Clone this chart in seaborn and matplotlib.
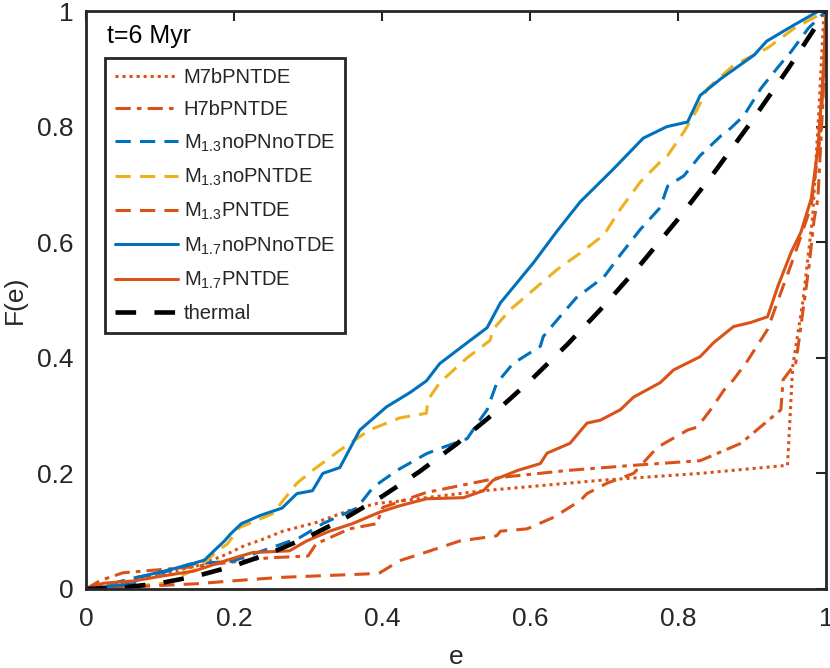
import numpy as np
import pandas as pd
import matplotlib
matplotlib.use('Agg')
import matplotlib.pyplot as plt
import seaborn as sns

# eccentricity CDFs (t = 6 Myr)
e_m7b = [0.0, 0.05, 0.1, 0.15, 0.19, 0.214, 0.237, 0.266, 0.311, 0.356, 0.393, 0.424, 0.46, 0.537,
         0.695, 0.83, 0.948, 0.955, 0.969, 0.982, 0.99, 0.997, 1.0]
F_m7b = [0.0, 0.01, 0.025, 0.04, 0.06, 0.075, 0.085, 0.1, 0.115, 0.136, 0.148, 0.152, 0.158, 0.17,
         0.188, 0.2, 0.214, 0.385, 0.5, 0.645, 0.82, 0.993, 1.0]

e_h7b = [0.0, 0.02, 0.05, 0.133, 0.214, 0.248, 0.30, 0.311, 0.356, 0.393, 0.401, 0.46, 0.56, 0.65,
         0.74, 0.83, 0.885, 0.939, 0.942, 0.959, 0.963, 0.977, 0.984, 0.989, 0.996, 1.0]
F_h7b = [0.0, 0.015, 0.028, 0.037, 0.049, 0.054, 0.057, 0.078, 0.104, 0.113, 0.141, 0.167, 0.193, 0.205,
         0.214, 0.222, 0.252, 0.31, 0.362, 0.391, 0.426, 0.558, 0.64, 0.675, 0.849, 1.0]

e_m13_nopn_notde = [0.0, 0.03, 0.068, 0.103, 0.14, 0.198, 0.252, 0.289, 0.32, 0.366, 0.388, 0.42, 0.46,
                    0.478, 0.515, 0.532, 0.542, 0.555, 0.577, 0.614, 0.618, 0.637, 0.664, 0.672, 0.70,
                    0.722, 0.749, 0.776, 0.786, 0.808, 0.83, 0.858, 0.871, 0.889, 0.912, 0.925, 0.943,
                    0.953, 0.976, 1.0]
F_m13_nopn_notde = [0.0, 0.008, 0.02, 0.028, 0.043, 0.048, 0.072, 0.089, 0.113, 0.14, 0.176, 0.205, 0.234,
                    0.243, 0.26, 0.292, 0.31, 0.356, 0.39, 0.42, 0.437, 0.466, 0.506, 0.513, 0.54,
                    0.578, 0.622, 0.66, 0.697, 0.715, 0.75, 0.784, 0.797, 0.819, 0.866, 0.887, 0.915,
                    0.93, 0.97, 1.0]

e_m13_nopn_tde = [0.0, 0.05, 0.106, 0.15, 0.178, 0.191, 0.207, 0.252, 0.285, 0.306, 0.343, 0.383, 0.424,
                  0.46, 0.462, 0.478, 0.515, 0.546, 0.55, 0.573, 0.605, 0.637, 0.672, 0.70, 0.722,
                  0.749, 0.776, 0.786, 0.808, 0.826, 0.84, 0.875, 0.921, 0.957, 1.0]
F_m13_nopn_tde = [0.0, 0.003, 0.01, 0.035, 0.066, 0.078, 0.106, 0.13, 0.183, 0.205, 0.24, 0.275, 0.296,
                  0.304, 0.327, 0.357, 0.40, 0.43, 0.449, 0.483, 0.518, 0.553, 0.585, 0.613, 0.657,
                  0.704, 0.739, 0.75, 0.791, 0.83, 0.866, 0.906, 0.936, 0.97, 1.0]

e_m13_pn_tde = [0.0, 0.05, 0.149, 0.198, 0.262, 0.379, 0.397, 0.424, 0.465, 0.505, 0.555, 0.56, 0.596,
                0.632, 0.668, 0.677, 0.704, 0.74, 0.772, 0.813, 0.826, 0.844, 0.862, 0.875, 0.894,
                0.921, 0.939, 0.957, 0.98, 0.993, 1.0]
F_m13_pn_tde = [0.0, 0.003, 0.009, 0.014, 0.02, 0.026, 0.028, 0.049, 0.066, 0.083, 0.092, 0.1, 0.104,
                0.124, 0.153, 0.165, 0.183, 0.2, 0.245, 0.275, 0.28, 0.31, 0.344, 0.362, 0.395,
                0.449, 0.513, 0.576, 0.663, 0.791, 1.0]

e_m17_nopn_notde = [0.0, 0.028, 0.065, 0.069, 0.079, 0.106, 0.142, 0.16, 0.173, 0.187, 0.196, 0.21, 0.235,
                    0.265, 0.285, 0.306, 0.32, 0.343, 0.37, 0.406, 0.438, 0.46, 0.478, 0.515, 0.542,
                    0.56, 0.605, 0.637, 0.668, 0.713, 0.753, 0.785, 0.813, 0.83, 0.858, 0.903, 0.92,
                    0.957, 0.99, 1.0]
F_m17_nopn_notde = [0.0, 0.004, 0.009, 0.02, 0.023, 0.031, 0.043, 0.05, 0.066, 0.083, 0.096, 0.113, 0.127,
                    0.14, 0.165, 0.17, 0.2, 0.21, 0.275, 0.315, 0.34, 0.36, 0.39, 0.426, 0.452,
                    0.495, 0.565, 0.62, 0.67, 0.727, 0.78, 0.80, 0.808, 0.854, 0.883, 0.924, 0.948,
                    0.976, 1.0, 1.0]

e_m17_pn_tde = [0.0, 0.011, 0.024, 0.065, 0.106, 0.146, 0.191, 0.225, 0.275, 0.298, 0.329, 0.36, 0.397,
                0.424, 0.46, 0.51, 0.537, 0.55, 0.583, 0.614, 0.623, 0.654, 0.677, 0.695, 0.722, 0.74,
                0.776, 0.794, 0.83, 0.848, 0.875, 0.898, 0.921, 0.935, 0.953, 0.966, 0.98, 0.989,
                0.997, 1.0]
F_m17_pn_tde = [0.0, 0.005, 0.01, 0.014, 0.023, 0.031, 0.05, 0.063, 0.066, 0.083, 0.1, 0.113, 0.133,
                0.144, 0.156, 0.158, 0.17, 0.188, 0.205, 0.217, 0.235, 0.252, 0.287, 0.292, 0.31, 0.332,
                0.357, 0.379, 0.402, 0.426, 0.454, 0.461, 0.471, 0.524, 0.583, 0.617, 0.675, 0.762,
                0.906, 1.0]

e_thermal = [0.0, 0.05, 0.1, 0.15, 0.2, 0.25, 0.3, 0.35, 0.4, 0.45, 0.5, 0.55, 0.6, 0.65, 0.7,
             0.75, 0.8, 0.85, 0.9, 0.95, 1.0]
F_thermal = [0.0, 0.0025, 0.01, 0.0225, 0.04, 0.0625, 0.09, 0.1225, 0.16, 0.2025, 0.25, 0.3025, 0.36,
             0.4225, 0.49, 0.5625, 0.64, 0.7225, 0.81, 0.9025, 1.0]

labels = ['M7bPNTDE', 'H7bPNTDE',
          r'M$_{1.3}$noPNnoTDE', r'M$_{1.3}$noPNTDE', r'M$_{1.3}$PNTDE',
          r'M$_{1.7}$noPNnoTDE', r'M$_{1.7}$PNTDE', 'thermal']
xticks = [0, 0.2, 0.4, 0.6, 0.8, 1]
yticks = [0, 0.2, 0.4, 0.6, 0.8, 1]
tick_labels = ['0', '0.2', '0.4', '0.6', '0.8', '1']

blue = '#0072BD'
orange = '#D95319'
yellow = '#EDB120'

series = [
    (e_m7b, F_m7b, orange, (0, (1, 1.3)), 2.2),
    (e_h7b, F_h7b, orange, (0, (5, 2, 1.5, 2)), 2.2),
    (e_m13_nopn_notde, F_m13_nopn_notde, blue, (0, (5, 3)), 2.2),
    (e_m13_nopn_tde, F_m13_nopn_tde, yellow, (0, (5, 3)), 2.2),
    (e_m13_pn_tde, F_m13_pn_tde, orange, (0, (5, 3)), 2.2),
    (e_m17_nopn_notde, F_m17_nopn_notde, blue, '-', 2.2),
    (e_m17_pn_tde, F_m17_pn_tde, orange, '-', 2.2),
    (e_thermal, F_thermal, 'black', (0, (4.5, 4)), 3.3),
]

sns.set_style('white')
plt.rcParams['font.family'] = ['Liberation Sans', 'DejaVu Sans']
plt.rcParams['mathtext.fontset'] = 'custom'
plt.rcParams['mathtext.rm'] = 'Liberation Sans'
plt.rcParams['mathtext.it'] = 'Liberation Sans:italic'
plt.rcParams['mathtext.bf'] = 'Liberation Sans:bold'

fig = plt.figure(figsize=(8.3, 6.68), dpi=100)
ax = fig.add_axes([0.1036, 0.1183, 0.8916, 0.8652])

for (ex, fy, col, ls, lw), lab in zip(series, labels):
    df = pd.DataFrame({'e': ex, 'F': fy})
    sns.lineplot(data=df, x='e', y='F', ax=ax, color=col, linestyle=ls, linewidth=lw,
                 sort=False, estimator=None, label=lab)

ax.set_xlim(0, 1)
ax.set_ylim(0, 1)
ax.set_xticks(xticks)
ax.set_xticklabels(tick_labels)
ax.set_yticks(yticks)
ax.set_yticklabels(tick_labels)
ax.tick_params(direction='in', length=7, width=1.5, color='#262626', labelsize=19,
               top=True, right=True, labelcolor='#262626')
ax.tick_params(axis='x', pad=13)
ax.tick_params(axis='y', pad=9)
for sp in ax.spines.values():
    sp.set_linewidth(2)
    sp.set_color('#262626')

ax.set_xlabel('e', fontsize=19, color='#262626', labelpad=10)
ax.set_ylabel('F(e)', fontsize=19, color='#262626', labelpad=7)

ax.text(0.028, 0.957, 't=6 Myr', fontsize=18, color='black', va='center', ha='left')

leg = ax.legend(loc='upper left', bbox_to_anchor=(0.0257, 0.9187), borderaxespad=0,
                fontsize=14.5, handlelength=3.1, handletextpad=0.3, labelspacing=0.65,
                borderpad=0.5, fancybox=False, framealpha=1, edgecolor='#262626')
leg.get_frame().set_linewidth(2)

fig.savefig('out.png', dpi=100)
